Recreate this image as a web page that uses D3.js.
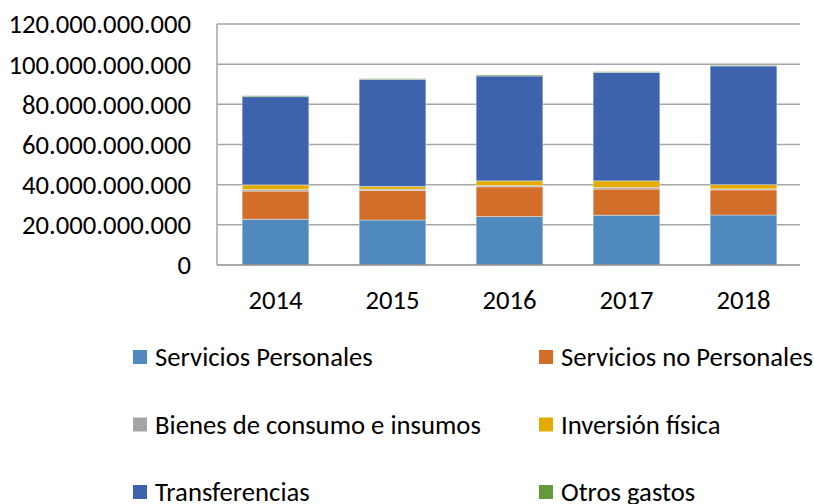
<!DOCTYPE html>
<html>
<head>
<meta charset="utf-8">
<script src="https://cdn.jsdelivr.net/npm/d3@7"></script>
<style>
  body { margin: 0; background: #fff; }
  text { font-family: Carlito, Calibri, Lato, sans-serif; fill: #000; }
</style>
</head>
<body>
<script>
// years on the x axis
const years = ["2014", "2015", "2016", "2017", "2018"];

// stacked series, in billions
const serviciosPersonales = [22.8, 22.4, 24.1, 24.8, 24.9];
const serviciosNoPersonales = [14.0, 14.7, 14.8, 13.0, 12.5];
const bienesConsumo = [0.8, 0.7, 0.7, 0.8, 0.5];
const inversionFisica = [2.3, 1.3, 2.3, 3.3, 2.1];
const transferencias = [43.9, 53.3, 52.2, 54.0, 59.1];
const otrosGastos = [0.5, 0.4, 0.5, 0.4, 0.3];

const seriesNames = ["Servicios Personales", "Servicios no Personales", "Bienes de consumo e insumos",
  "Inversión física", "Transferencias", "Otros gastos"];
const seriesColors = ["#4f89bd", "#d36e2a", "#a5a5a5", "#e3aa00", "#3c63ac", "#629a3c"];

const yTicks = [0, 20, 40, 60, 80, 100, 120];

// build rows for d3.stack
const table = years.map(function(y, i) {
  return {
    year: y,
    s0: serviciosPersonales[i] * 1e9,
    s1: serviciosNoPersonales[i] * 1e9,
    s2: bienesConsumo[i] * 1e9,
    s3: inversionFisica[i] * 1e9,
    s4: transferencias[i] * 1e9,
    s5: otrosGastos[i] * 1e9
  };
});

const width = 814, height = 504;
const margin = {top: 24, right: 12, bottom: 239, left: 217};
const fontSize = 26.7;

const svg = d3.select("body").append("svg")
  .attr("width", width)
  .attr("height", height);

const xScale = d3.scaleBand()
  .domain(years)
  .range([margin.left, width - margin.right])
  .paddingInner(0.43)
  .paddingOuter(0.215);

const yScale = d3.scaleLinear()
  .domain([0, 120e9])
  .range([height - margin.bottom, margin.top]);

const fmt = function(v) {
  return v === 0 ? "0" : d3.format(",")(v).replace(/,/g, ".");
};

// gridlines
svg.append("g")
  .selectAll("line")
  .data(yTicks.slice(1))
  .join("line")
  .attr("x1", margin.left)
  .attr("x2", width - margin.right - 2)
  .attr("y1", d => yScale(d * 1e9))
  .attr("y2", d => yScale(d * 1e9))
  .attr("stroke", "#a6a6a6")
  .attr("stroke-width", 1.5);

// y axis labels
svg.append("g")
  .selectAll("text")
  .data(yTicks)
  .join("text")
  .attr("x", 191)
  .attr("y", d => yScale(d * 1e9))
  .attr("dy", "0.35em")
  .attr("text-anchor", "end")
  .attr("font-size", fontSize)
  .text(d => fmt(d * 1e9));

// stacked bars
const keys = ["s0", "s1", "s2", "s3", "s4", "s5"];
const stacked = d3.stack().keys(keys)(table);

svg.append("g")
  .selectAll("g")
  .data(stacked)
  .join("g")
  .attr("fill", (d, i) => seriesColors[i])
  .selectAll("rect")
  .data(d => d)
  .join("rect")
  .attr("x", d => xScale(d.data.year))
  .attr("width", xScale.bandwidth())
  .attr("y", d => yScale(d[1]))
  .attr("height", d => yScale(d[0]) - yScale(d[1]))
  .attr("stroke", "#ffffff")
  .attr("stroke-opacity", 0.5)
  .attr("stroke-width", 0.75);

// axis lines
svg.append("line")
  .attr("x1", margin.left).attr("x2", margin.left)
  .attr("y1", margin.top).attr("y2", yScale(0))
  .attr("stroke", "#a6a6a6").attr("stroke-width", 1.5);

svg.append("line")
  .attr("x1", margin.left).attr("x2", width - margin.right - 2)
  .attr("y1", yScale(0)).attr("y2", yScale(0))
  .attr("stroke", "#8c8c8c").attr("stroke-width", 1.5);

// x labels
svg.append("g")
  .selectAll("text")
  .data(years)
  .join("text")
  .attr("x", d => xScale(d) + xScale.bandwidth() / 2)
  .attr("y", 300)
  .attr("dy", "0.35em")
  .attr("text-anchor", "middle")
  .attr("font-size", fontSize)
  .text(d => d);

// legend, two columns
const legend = svg.append("g")
  .selectAll("g")
  .data(seriesNames)
  .join("g")
  .attr("transform", (d, i) => "translate(" + (i % 2 === 0 ? 133 : 539) + "," + (357 + Math.floor(i / 2) * 67.5) + ")");

legend.append("rect")
  .attr("x", 0)
  .attr("y", -7)
  .attr("width", 14)
  .attr("height", 14)
  .attr("fill", (d, i) => seriesColors[i]);

legend.append("text")
  .attr("x", 22)
  .attr("y", 0)
  .attr("dy", "0.35em")
  .attr("font-size", fontSize)
  .text(d => d);
</script>
</body>
</html>
